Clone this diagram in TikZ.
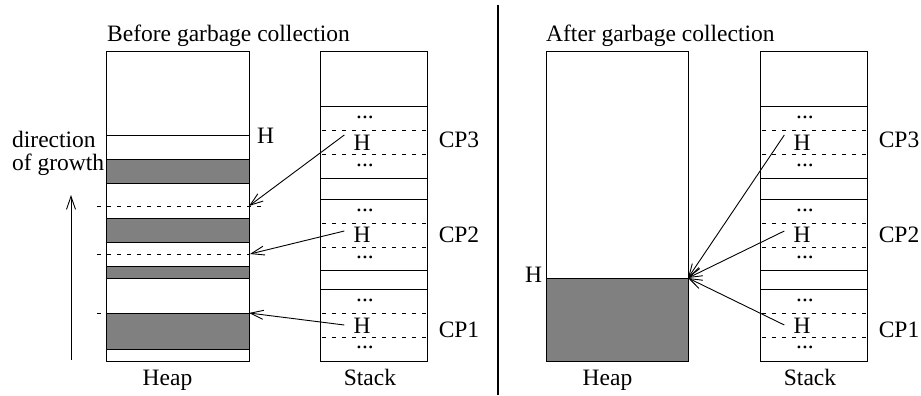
\documentclass[tikz,border=0pt]{standalone}
\usepackage{fontspec}
\setmainfont{Liberation Serif}
\usetikzlibrary{arrows.meta}
\tikzset{
  lbl/.style={font=\fontsize{23.5}{28}\selectfont, inner sep=0pt},
  hnode/.style={lbl, inner xsep=9pt},
  cell/.style={line width=1pt},
  used/.style={cell, fill=gray},
  dsh/.style={line width=0.9pt, dash pattern=on 4pt off 6pt},
  ptr/.style={line width=0.9pt, -{Straight Barb[length=13pt,width=9pt]}}
}
\begin{document}
\begin{tikzpicture}[x=1pt,y=-1pt]
\useasboundingbox (0,0) rectangle (921,396);
% stacks, before (b) and after (a)
\foreach \s/\o in {b/0,a/440} {
\draw[cell] (320+\o,52) rectangle (427+\o,361);
\foreach \y in {106,178,199,270,289} \draw[cell] (320+\o,\y) -- (427+\o,\y);
\foreach \y in {130,154,223,247,313,337} \draw[dsh] (322+\o,\y) -- (427+\o,\y);
\foreach \y in {117,165,210,257,300,347} \node[lbl] at (365+\o,\y) {...};
\node[hnode] (h3\s) at (362+\o,143) {H};
\node[hnode] (h2\s) at (362+\o,235) {H};
\node[hnode] (h1\s) at (362+\o,326) {H};
\node[lbl] (cp3\s) at (459+\o,140) {CP3};
\node[lbl] (cp2\s) at (459+\o,235) {CP2};
\node[lbl] (cp1\s) at (459+\o,330) {CP1};
\node[lbl, anchor=base] (stk\s) at (370+\o,385) {Stack};
\node[lbl, anchor=base] (heap\s) at (167.5+\o,385) {Heap};
}
% heap before
\draw[cell] (106,52) rectangle (249,361);
\draw[cell] (106,135) -- (249,135);
\foreach \a/\b in {159/183,218/242,266/278,313/349} \draw[used] (106,\a) rectangle (249,\b);
\draw[dsh] (97,206) -- (262,206);
\draw[dsh] (97,254) -- (250,254);
\draw[dsh] (97,313) -- (106,313);
\coordinate (g3) at (249,206);
\coordinate (g2) at (250,254);
\coordinate (g1) at (249,313);
\node[lbl, anchor=base west] (hb) at (257,143) {H};
\node[lbl, anchor=base west] (titleb) at (107,42) {Before garbage collection};
\node[lbl, anchor=base west] (dir1) at (12,147) {direction};
\node[lbl, anchor=base west] (dir2) at (12,170) {of growth};
\coordinate (grow0) at (71,360);
\coordinate (grow1) at (71,195);
\draw[ptr] (grow0) -- (grow1);
\draw[ptr] ([yshift=8pt]h3b.west) -- (g3);
\draw[ptr] ([yshift=4pt]h2b.west) -- (g2);
\draw[ptr] ([yshift=1pt]h1b.west) -- (g1);
% divider
\draw[line width=1.6pt] (498,5) -- (498,395);
% heap after
\draw[cell] (546,52) rectangle (688,361);
\draw[used] (546,278) rectangle (688,361);
\coordinate (top) at (688,278);
\node[lbl, anchor=base west] (ha) at (525,282) {H};
\node[lbl, anchor=base west] (titlea) at (546,42) {After garbage collection};
\draw[ptr] ([yshift=8pt]h3a.west) -- (top);
\draw[ptr] ([yshift=4pt]h2a.west) -- (top);
\draw[ptr] ([yshift=1pt]h1a.west) -- (top);
\end{tikzpicture}
\end{document}
